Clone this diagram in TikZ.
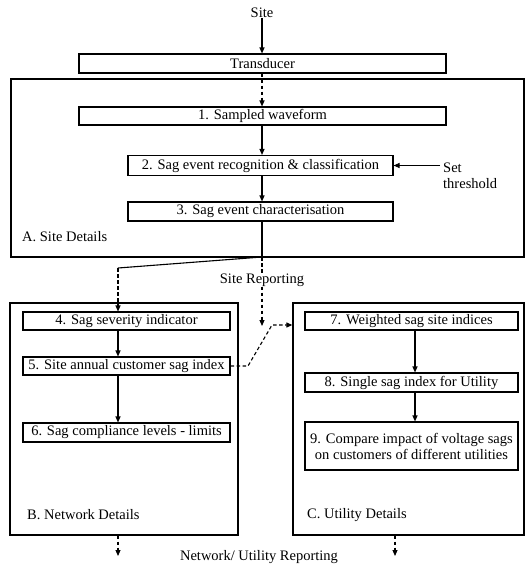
\documentclass[tikz,border=0pt]{standalone}
\usepackage{fontspec}
\setmainfont{Liberation Serif}
\usetikzlibrary{arrows.meta,calc}
\begin{document}
\begin{tikzpicture}[x=1pt,y=-1pt,
  every node/.style={font=\fontsize{14.5}{16}\selectfont, inner sep=0pt},
  stepbox/.style={draw, line width=1.1pt},
  frame/.style={draw, line width=1.3pt},
  conn/.style={line width=1.1pt},
  arr/.style={conn, -{Triangle[length=6pt,width=5pt]}},
  darr/.style={arr, dash pattern=on 3.5pt off 2.5pt},
  dline/.style={conn, dash pattern=on 3.5pt off 2.5pt},
  lbl/.style={anchor=west}
]
\useasboundingbox (0,0) rectangle (526,576);

% frames
\node[frame, minimum width=513pt, minimum height=178pt] (A) at (267.5,168) {};
\node[frame, minimum width=228pt, minimum height=232pt] (B) at (124,419) {};
\node[frame, minimum width=231pt, minimum height=232pt] (C) at (408.5,419) {};

% top
\node (site) at (262,13) {Site};
\node[stepbox, minimum width=367pt, minimum height=19pt] (tr) at (262.5,63.5) {Transducer};
\node[stepbox, minimum width=367pt, minimum height=18pt] (b1) at (262.5,116) {1. Sampled waveform};
\node[stepbox, minimum width=265pt, minimum height=20pt] (b2) at (260.5,165.5) {2. Sag event recognition \& classification};
\node[stepbox, minimum width=265pt, minimum height=19pt] (b3) at (260.5,211.5) {3. Sag event characterisation};
\node[lbl, align=left] (st) at (443,176) {Set\\threshold};
\node[lbl] (la) at (22,237) {A. Site Details};

% B boxes
\node[stepbox, minimum width=207pt, minimum height=18pt] (b4) at (126.5,321) {4. Sag severity indicator};
\node[stepbox, minimum width=207pt, minimum height=18pt] (b5) at (126.5,366) {5. Site annual customer sag index};
\node[stepbox, minimum width=207pt, minimum height=19pt] (b6) at (126.5,432.5) {6. Sag compliance levels - limits};
\node[lbl] (lb) at (27,515) {B. Network Details};

% C boxes
\node[stepbox, minimum width=213pt, minimum height=18pt] (b7) at (411.5,321) {7. Weighted sag site indices};
\node[stepbox, minimum width=213pt, minimum height=19pt] (b8) at (411.5,382.5) {8. Single sag index for Utility};
\node[stepbox, minimum width=213pt, minimum height=48pt, align=center] (b9) at (411.5,446) {9. Compare impact of voltage sags\\on customers of different utilities};
\node[lbl] (lc) at (307,515) {C. Utility Details};

\node (sr) at (262,280) {Site Reporting};
\node (nr) at (259,557) {Network/ Utility Reporting};

% coordinates
\coordinate (xa) at (262,0);
\coordinate (xb) at (118,0);
\coordinate (xc) at (415,0);
\coordinate (stt) at (440,165.5);
\coordinate (j) at (262,257);
\coordinate (k) at (118,268);
\coordinate (srend) at (262,326);
\coordinate (m1) at (248,366);
\coordinate (m2) at (272,325);
\coordinate (e1) at (118,556);
\coordinate (e2) at (395,556);

% connectors
\draw[arr] (site.south) -- (site.south |- tr.north);
\draw[darr] (tr.south -| xa) -- (b1.north -| xa);
\draw[arr] (b1.south -| xa) -- (b2.north -| xa);
\draw[arr] (b2.south -| xa) -- (b3.north -| xa);
\draw[arr] (stt) -- (b2.east);
\draw[conn] (b3.south -| xa) -- (j);
\draw[conn] (j) -- (k);
\draw[darr] (k) -- (k |- b4.north);
\draw[dline] (j) -- (sr.north);
\draw[darr] (sr.south) -- (srend);
\draw[arr] (b4.south -| xb) -- (b5.north -| xb);
\draw[arr] (b5.south -| xb) -- (b6.north -| xb);
\draw[darr] (b5.east) -- (m1) -- (m2) -- (m2 -| C.west);
\draw[arr] (b7.south -| xc) -- (b8.north -| xc);
\draw[arr] (b8.south -| xc) -- (b9.north -| xc);
\draw[darr] (e1 |- B.south) -- (e1);
\draw[darr] (e2 |- C.south) -- (e2);
\end{tikzpicture}
\end{document}
